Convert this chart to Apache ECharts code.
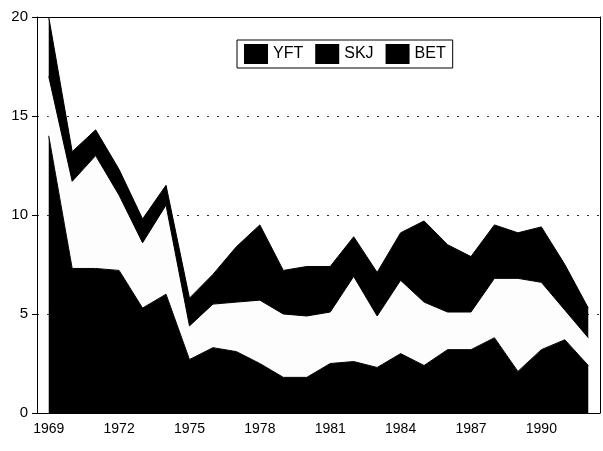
<!DOCTYPE html>
<html>
<head>
<meta charset="utf-8">
<script src="https://cdn.jsdelivr.net/npm/echarts@6/dist/echarts.min.js"></script>
<style>
  html, body { margin: 0; padding: 0; background: #fff; }
  #echart { width: 603px; height: 451px; }
</style>
</head>
<body>
<div id="echart"></div>
<script>
var years = ['1969', '1970', '1971', '1972', '1973', '1974', '1975', '1976', '1977', '1978', '1979', '1980',
             '1981', '1982', '1983', '1984', '1985', '1986', '1987', '1988', '1989', '1990', '1991', '1992'];
var yft = [14.0, 7.3, 7.3, 7.2, 5.3, 6.0, 2.7, 3.3, 3.1, 2.5, 1.8, 1.8,
           2.5, 2.6, 2.3, 3.0, 2.4, 3.2, 3.2, 3.8, 2.1, 3.2, 3.7, 2.4];
var skj = [3.0, 4.4, 5.7, 3.8, 3.3, 4.5, 1.7, 2.2, 2.5, 3.2, 3.2, 3.1,
           2.6, 4.3, 2.6, 3.7, 3.2, 1.9, 1.9, 3.0, 4.7, 3.4, 1.5, 1.4];
var bet = [3.0, 1.5, 1.3, 1.3, 1.2, 1.0, 1.4, 1.5, 2.8, 3.8, 2.2, 2.5,
           2.3, 2.0, 2.2, 2.4, 4.1, 3.4, 2.8, 2.7, 2.3, 2.8, 2.3, 1.5];
var xLabels = ['1969', '1972', '1975', '1978', '1981', '1984', '1987', '1990'];
var seriesNames = ['YFT', 'SKJ', 'BET'];

function drawChart(){
	if( typeof (echarts) === 'undefined'){ console.log('echarts is undefined'); return; }
	var echart = echarts.init(document.getElementById('echart'));
	var font = "'Liberation Sans', Arial, sans-serif";
	echart.setOption({
		animation: false,
		textStyle: { fontFamily: font },
		grid: { left: 37, right: 3, top: 17, bottom: 38 },
		legend: {
			left: 237,
			top: 40,
			padding: [4, 7, 4, 7],
			itemGap: 12,
			itemWidth: 24,
			itemHeight: 20,
			borderColor: '#000',
			borderWidth: 1,
			textStyle: {
				color: '#000',
				fontSize: 16,
				fontFamily: "'Liberation Sans Narrow', 'Liberation Sans', Arial, sans-serif"
			},
			data: seriesNames.map(function(n){
				return { name: n, icon: 'rect', itemStyle: { color: '#000', borderWidth: 0 } };
			})
		},
		xAxis: [{
			type: 'category',
			boundaryGap: true,
			data: years,
			axisLine: { onZero: false, lineStyle: { color: '#000' } },
			axisTick: { alignWithLabel: true, interval: 0, length: 5, lineStyle: { color: '#000' } },
			axisLabel: {
				color: '#000',
				fontSize: 14,
				margin: 9,
				interval: function(i, v){ return xLabels.indexOf(v) >= 0; }
			},
			splitLine: { show: false }
		}, {
			type: 'category',
			position: 'top',
			data: years,
			axisLine: { show: true, onZero: false, lineStyle: { color: '#000' } },
			axisTick: { show: false },
			axisLabel: { show: false },
			splitLine: { show: false }
		}],
		yAxis: [{
			type: 'value',
			min: 0,
			max: 20,
			interval: 5,
			axisLine: { show: true, onZero: false, lineStyle: { color: '#000' } },
			axisTick: { show: true, length: 5, lineStyle: { color: '#000' } },
			axisLabel: { color: '#000', fontSize: 15, margin: 9 },
			splitLine: { show: true, lineStyle: { color: '#333', type: [2, 8], width: 1 } }
		}, {
			type: 'value',
			position: 'right',
			min: 0,
			max: 20,
			axisLine: { show: true, onZero: false, lineStyle: { color: '#000' } },
			axisTick: { show: false },
			axisLabel: { show: false },
			splitLine: { show: false }
		}],
		series: [
			{
				name: 'YFT', type: 'line', stack: 'catch', showSymbol: false,
				color: '#000',
				lineStyle: { color: '#000', width: 1 },
				areaStyle: { color: '#000', opacity: 1 },
				data: yft
			},
			{
				name: 'SKJ', type: 'line', stack: 'catch', showSymbol: false,
				color: '#fff',
				lineStyle: { color: '#000', width: 1 },
				areaStyle: { color: '#fdfdfd', opacity: 1 },
				data: skj
			},
			{
				name: 'BET', type: 'line', stack: 'catch', showSymbol: false,
				color: '#000',
				lineStyle: { color: '#000', width: 1 },
				areaStyle: { color: '#000', opacity: 1 },
				data: bet
			}
		]
	});
}

drawChart();
</script>
</body>
</html>
